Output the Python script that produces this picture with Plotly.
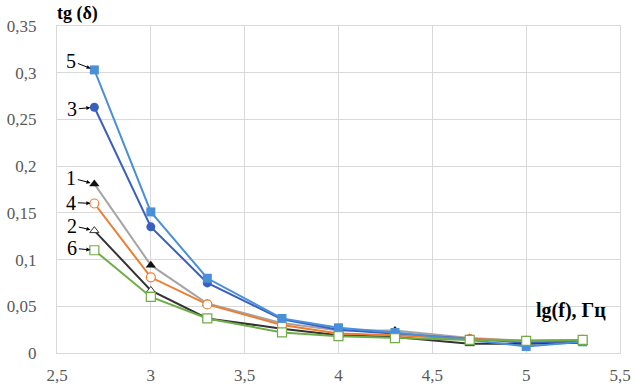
import plotly.graph_objects as go

x_lg = [2.699, 3.0, 3.301, 3.699, 4.0, 4.301, 4.699, 5.0, 5.301]

s1 = [0.181, 0.094, 0.053, 0.032, 0.024, 0.024, 0.016, 0.013, 0.013]
s2 = [0.131, 0.067, 0.037, 0.026, 0.019, 0.017, 0.010, 0.010, 0.011]
s3 = [0.263, 0.135, 0.075, 0.036, 0.025, 0.021, 0.015, 0.011, 0.013]
s4 = [0.160, 0.081, 0.052, 0.030, 0.021, 0.019, 0.015, 0.013, 0.014]
s5 = [0.303, 0.151, 0.080, 0.037, 0.027, 0.022, 0.014, 0.007, 0.012]
s6 = [0.110, 0.060, 0.037, 0.022, 0.018, 0.016, 0.014, 0.013, 0.014]

label_offsets = {"5": (-23, -9), "3": (-22, 2), "1": (-23, -6),
                 "4": (-23, -1), "2": (-22, -5), "6": (-22, -2)}

series = [
    ("1", s1, "#a5a5a5", dict(symbol="triangle-up", color="#111111", size=9)),
    ("2", s2, "#333333", dict(symbol="triangle-up", color="white", size=8,
                              line=dict(color="#333333", width=1))),
    ("3", s3, "#3a5fc0", dict(symbol="circle", color="#3a5fc0", size=9)),
    ("4", s4, "#ed7d31", dict(symbol="circle", color="white", size=9,
                              line=dict(color="#ed7d31", width=1.2))),
    ("5", s5, "#4a90d9", dict(symbol="square", color="#4a90d9", size=9)),
    ("6", s6, "#6fad47", dict(symbol="square", color="white", size=9,
                              line=dict(color="#6fad47", width=1.2))),
]

SERIF = "Liberation Serif"

fig = go.Figure()
for name, ys, col, mk in series:
    fig.add_trace(go.Scatter(x=x_lg, y=ys, mode="lines+markers", name=name,
                             line=dict(color=col, width=2), marker=mk,
                             showlegend=False))

for name, ys, col, mk in series:
    ax, ay = label_offsets[name]
    fig.add_annotation(x=x_lg[0], y=ys[0], text=name, showarrow=True,
                       ax=ax, ay=ay, arrowhead=2, arrowsize=0.8, arrowwidth=1,
                       arrowcolor="black", standoff=4,
                       font=dict(family=SERIF, size=20, color="black"))

fig.add_annotation(x=-0.004, y=1.037, xref="paper", yref="paper", xanchor="left",
                   yanchor="middle", text="<b>tg (δ)</b>", showarrow=False,
                   font=dict(family=SERIF, size=18, color="black"))
fig.add_annotation(x=0.913, y=0.131, xref="paper", yref="paper", xanchor="center",
                   yanchor="middle", text="<b>lg(f), Гц</b>", showarrow=False,
                   font=dict(family=SERIF, size=20, color="black"))

fig.update_layout(
    width=635, height=392,
    margin=dict(l=57, r=15, t=26, b=39, autoexpand=False),
    paper_bgcolor="white", plot_bgcolor="white",
    separators=", ",
    font=dict(family=SERIF, size=17, color="#595959"),
)
fig.update_xaxes(range=[2.5, 5.5], dtick=0.5, tick0=2.5, showgrid=True, gridcolor="#d9d9d9",
                 showline=True, linecolor="#d9d9d9", mirror=True, zeroline=False,
                 ticks="", ticklabelstandoff=7, automargin=False,
                 tickfont=dict(family=SERIF, size=17, color="#595959"))
fig.update_yaxes(range=[0, 0.35], dtick=0.05, showgrid=True, gridcolor="#d9d9d9",
                 showline=True, linecolor="#d9d9d9", mirror=True, zeroline=False,
                 ticks="", ticklabelstandoff=16, automargin=False,
                 tickfont=dict(family=SERIF, size=17, color="#595959"))

fig.write_html("out.html", config={"displayModeBar": False},
               post_script="document.body.style.margin='0';document.body.style.overflow='hidden';")
